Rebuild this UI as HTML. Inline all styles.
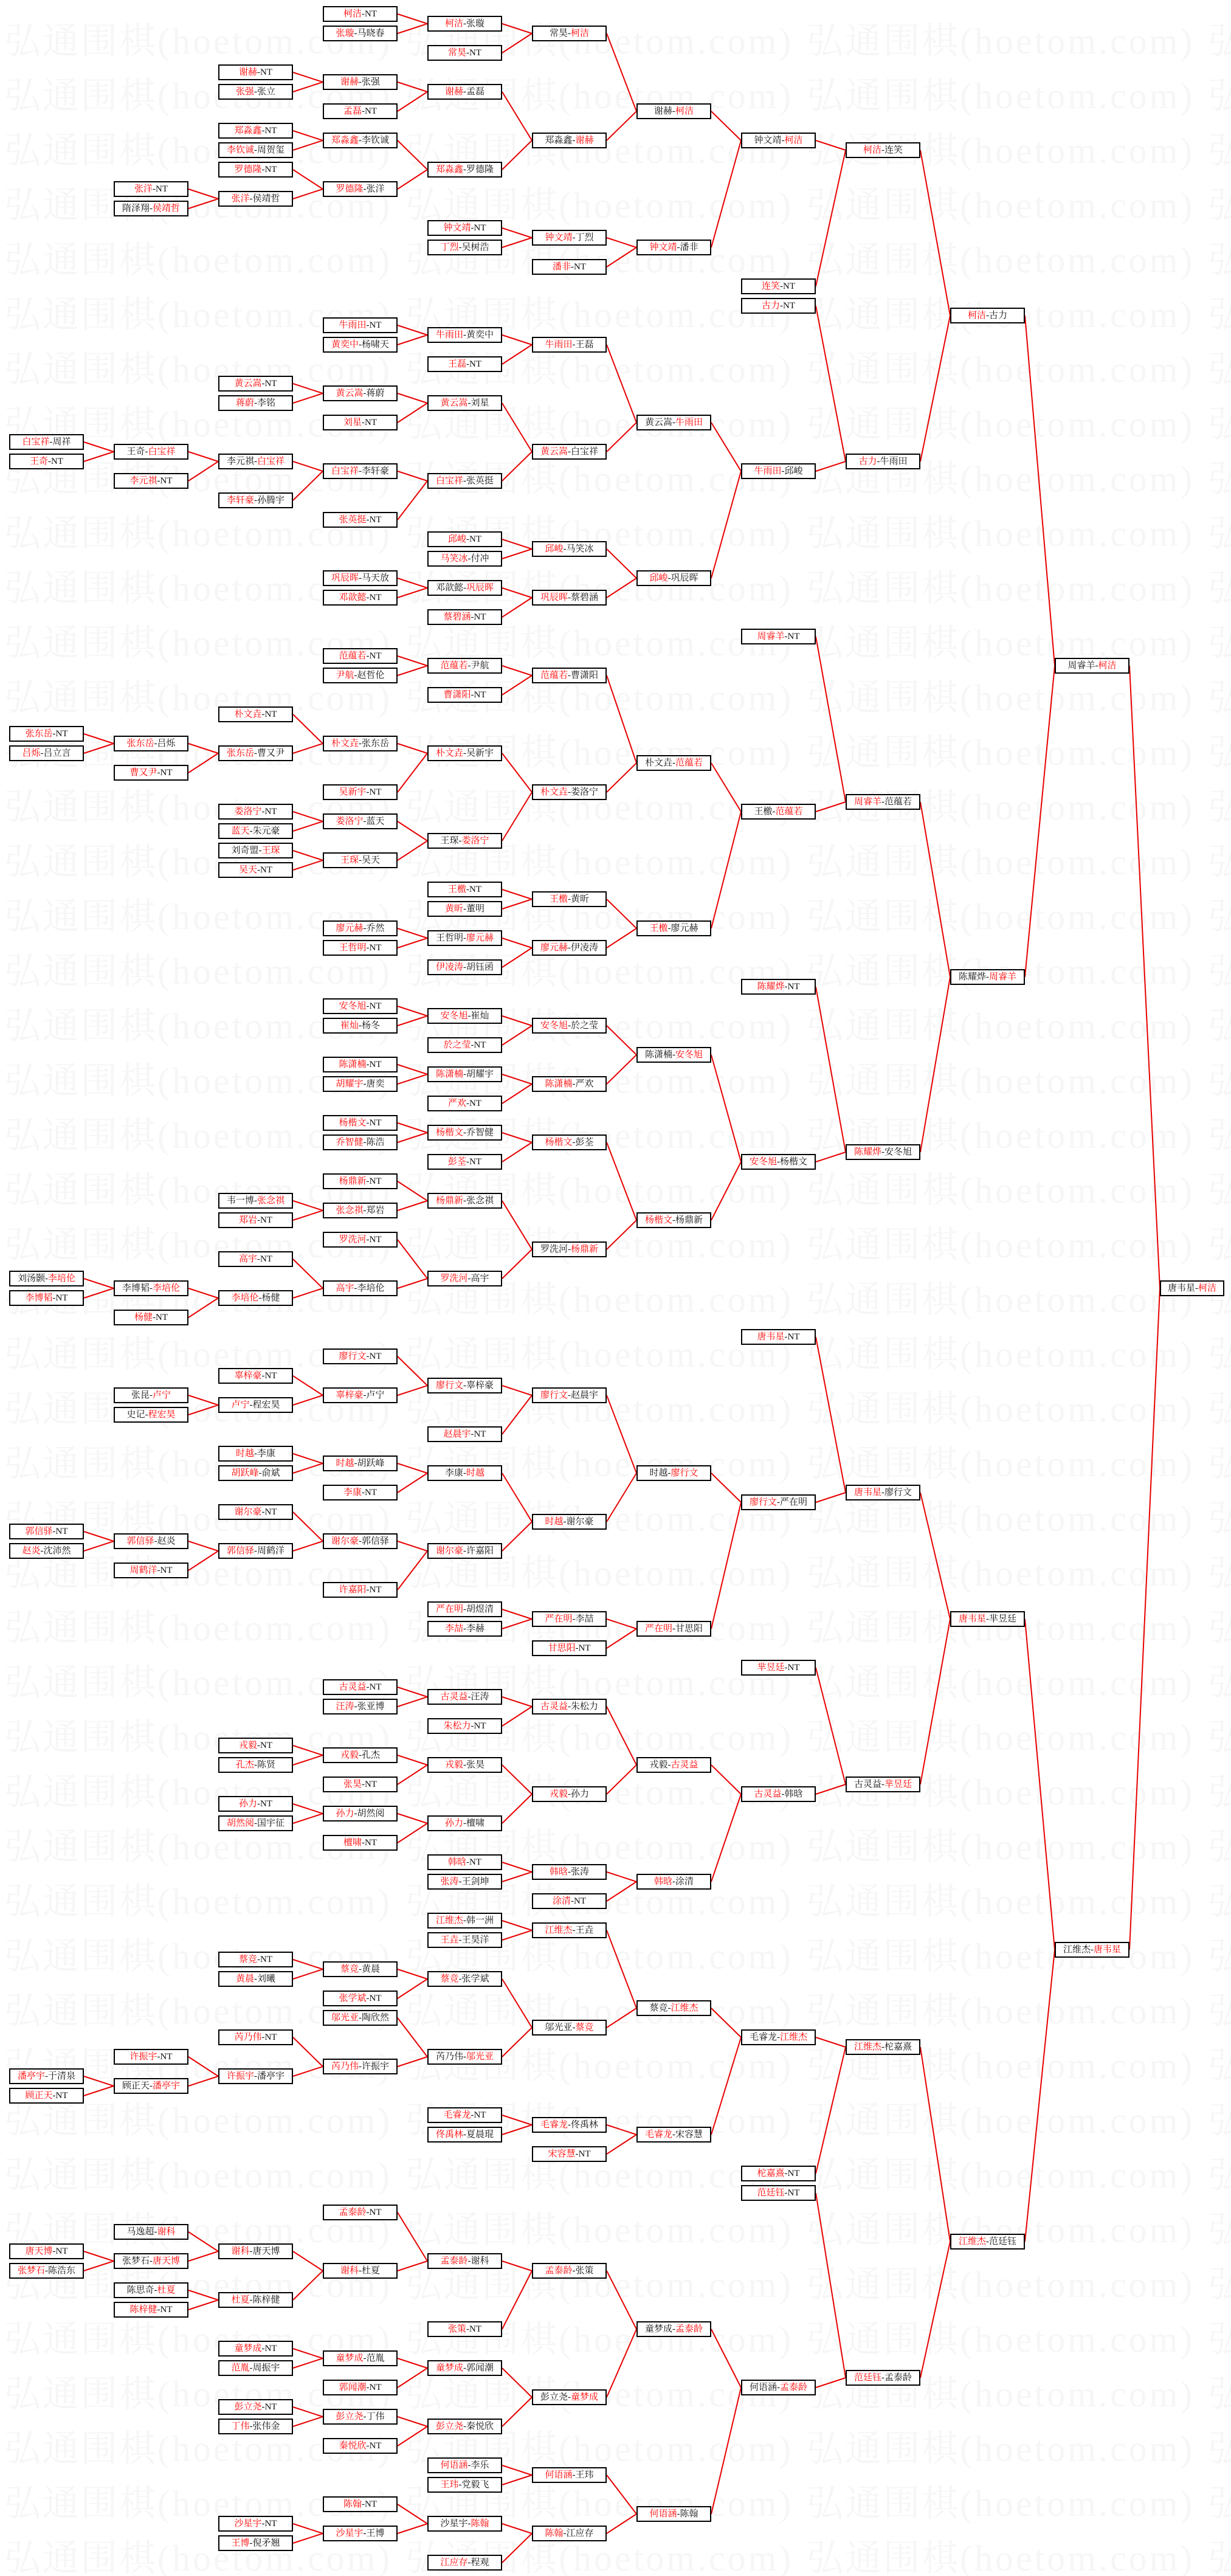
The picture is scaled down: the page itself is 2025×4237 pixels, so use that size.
<!DOCTYPE html>
<html><head><meta charset="utf-8"><title>bracket</title>
<style>
html,body{margin:0;padding:0;background:#fff}
#pg{position:relative;width:2025px;height:4237px;overflow:hidden;background:#fff}
.w{position:absolute;left:7px;white-space:nowrap;font:60px/60px "Liberation Serif","Noto Serif CJK SC",serif;letter-spacing:3px;color:#f6f6f6}
.w span{display:inline-block;width:660px}
.w b{font:60px/60px "Liberation Serif","Noto Serif CJK SC",serif;letter-spacing:4px;font-weight:normal}
svg{position:absolute;left:0;top:0}
.b{position:absolute;width:123px;height:26px;box-sizing:border-box;border:2px solid #000;background:#fff;font:15px/22px "Liberation Serif","Noto Serif CJK SC",serif;text-align:center;white-space:nowrap;color:#111;overflow:hidden}
.b i{font-style:normal;color:#f00}
.c0{left:15px}.c1{left:187px}.c2{left:359px}.c3{left:531px}.c4{left:703px}.c5{left:875px}
.c6{left:1047px}.c7{left:1219px}.c8{left:1391px}.c9{left:1563px}.c10{left:1735px}.c11{left:1908px;width:106px}
</style></head><body><div id="pg">
<div class="w" style="top:38px"><span>弘通围棋<b>(hoetom.com)</b></span><span>弘通围棋<b>(hoetom.com)</b></span><span>弘通围棋<b>(hoetom.com)</b></span><span>弘通围棋<b>(hoetom.com)</b></span></div>
<div class="w" style="top:128px"><span>弘通围棋<b>(hoetom.com)</b></span><span>弘通围棋<b>(hoetom.com)</b></span><span>弘通围棋<b>(hoetom.com)</b></span><span>弘通围棋<b>(hoetom.com)</b></span></div>
<div class="w" style="top:218px"><span>弘通围棋<b>(hoetom.com)</b></span><span>弘通围棋<b>(hoetom.com)</b></span><span>弘通围棋<b>(hoetom.com)</b></span><span>弘通围棋<b>(hoetom.com)</b></span></div>
<div class="w" style="top:308px"><span>弘通围棋<b>(hoetom.com)</b></span><span>弘通围棋<b>(hoetom.com)</b></span><span>弘通围棋<b>(hoetom.com)</b></span><span>弘通围棋<b>(hoetom.com)</b></span></div>
<div class="w" style="top:398px"><span>弘通围棋<b>(hoetom.com)</b></span><span>弘通围棋<b>(hoetom.com)</b></span><span>弘通围棋<b>(hoetom.com)</b></span><span>弘通围棋<b>(hoetom.com)</b></span></div>
<div class="w" style="top:488px"><span>弘通围棋<b>(hoetom.com)</b></span><span>弘通围棋<b>(hoetom.com)</b></span><span>弘通围棋<b>(hoetom.com)</b></span><span>弘通围棋<b>(hoetom.com)</b></span></div>
<div class="w" style="top:578px"><span>弘通围棋<b>(hoetom.com)</b></span><span>弘通围棋<b>(hoetom.com)</b></span><span>弘通围棋<b>(hoetom.com)</b></span><span>弘通围棋<b>(hoetom.com)</b></span></div>
<div class="w" style="top:668px"><span>弘通围棋<b>(hoetom.com)</b></span><span>弘通围棋<b>(hoetom.com)</b></span><span>弘通围棋<b>(hoetom.com)</b></span><span>弘通围棋<b>(hoetom.com)</b></span></div>
<div class="w" style="top:758px"><span>弘通围棋<b>(hoetom.com)</b></span><span>弘通围棋<b>(hoetom.com)</b></span><span>弘通围棋<b>(hoetom.com)</b></span><span>弘通围棋<b>(hoetom.com)</b></span></div>
<div class="w" style="top:848px"><span>弘通围棋<b>(hoetom.com)</b></span><span>弘通围棋<b>(hoetom.com)</b></span><span>弘通围棋<b>(hoetom.com)</b></span><span>弘通围棋<b>(hoetom.com)</b></span></div>
<div class="w" style="top:938px"><span>弘通围棋<b>(hoetom.com)</b></span><span>弘通围棋<b>(hoetom.com)</b></span><span>弘通围棋<b>(hoetom.com)</b></span><span>弘通围棋<b>(hoetom.com)</b></span></div>
<div class="w" style="top:1028px"><span>弘通围棋<b>(hoetom.com)</b></span><span>弘通围棋<b>(hoetom.com)</b></span><span>弘通围棋<b>(hoetom.com)</b></span><span>弘通围棋<b>(hoetom.com)</b></span></div>
<div class="w" style="top:1118px"><span>弘通围棋<b>(hoetom.com)</b></span><span>弘通围棋<b>(hoetom.com)</b></span><span>弘通围棋<b>(hoetom.com)</b></span><span>弘通围棋<b>(hoetom.com)</b></span></div>
<div class="w" style="top:1208px"><span>弘通围棋<b>(hoetom.com)</b></span><span>弘通围棋<b>(hoetom.com)</b></span><span>弘通围棋<b>(hoetom.com)</b></span><span>弘通围棋<b>(hoetom.com)</b></span></div>
<div class="w" style="top:1298px"><span>弘通围棋<b>(hoetom.com)</b></span><span>弘通围棋<b>(hoetom.com)</b></span><span>弘通围棋<b>(hoetom.com)</b></span><span>弘通围棋<b>(hoetom.com)</b></span></div>
<div class="w" style="top:1388px"><span>弘通围棋<b>(hoetom.com)</b></span><span>弘通围棋<b>(hoetom.com)</b></span><span>弘通围棋<b>(hoetom.com)</b></span><span>弘通围棋<b>(hoetom.com)</b></span></div>
<div class="w" style="top:1478px"><span>弘通围棋<b>(hoetom.com)</b></span><span>弘通围棋<b>(hoetom.com)</b></span><span>弘通围棋<b>(hoetom.com)</b></span><span>弘通围棋<b>(hoetom.com)</b></span></div>
<div class="w" style="top:1568px"><span>弘通围棋<b>(hoetom.com)</b></span><span>弘通围棋<b>(hoetom.com)</b></span><span>弘通围棋<b>(hoetom.com)</b></span><span>弘通围棋<b>(hoetom.com)</b></span></div>
<div class="w" style="top:1658px"><span>弘通围棋<b>(hoetom.com)</b></span><span>弘通围棋<b>(hoetom.com)</b></span><span>弘通围棋<b>(hoetom.com)</b></span><span>弘通围棋<b>(hoetom.com)</b></span></div>
<div class="w" style="top:1748px"><span>弘通围棋<b>(hoetom.com)</b></span><span>弘通围棋<b>(hoetom.com)</b></span><span>弘通围棋<b>(hoetom.com)</b></span><span>弘通围棋<b>(hoetom.com)</b></span></div>
<div class="w" style="top:1838px"><span>弘通围棋<b>(hoetom.com)</b></span><span>弘通围棋<b>(hoetom.com)</b></span><span>弘通围棋<b>(hoetom.com)</b></span><span>弘通围棋<b>(hoetom.com)</b></span></div>
<div class="w" style="top:1928px"><span>弘通围棋<b>(hoetom.com)</b></span><span>弘通围棋<b>(hoetom.com)</b></span><span>弘通围棋<b>(hoetom.com)</b></span><span>弘通围棋<b>(hoetom.com)</b></span></div>
<div class="w" style="top:2018px"><span>弘通围棋<b>(hoetom.com)</b></span><span>弘通围棋<b>(hoetom.com)</b></span><span>弘通围棋<b>(hoetom.com)</b></span><span>弘通围棋<b>(hoetom.com)</b></span></div>
<div class="w" style="top:2108px"><span>弘通围棋<b>(hoetom.com)</b></span><span>弘通围棋<b>(hoetom.com)</b></span><span>弘通围棋<b>(hoetom.com)</b></span><span>弘通围棋<b>(hoetom.com)</b></span></div>
<div class="w" style="top:2198px"><span>弘通围棋<b>(hoetom.com)</b></span><span>弘通围棋<b>(hoetom.com)</b></span><span>弘通围棋<b>(hoetom.com)</b></span><span>弘通围棋<b>(hoetom.com)</b></span></div>
<div class="w" style="top:2288px"><span>弘通围棋<b>(hoetom.com)</b></span><span>弘通围棋<b>(hoetom.com)</b></span><span>弘通围棋<b>(hoetom.com)</b></span><span>弘通围棋<b>(hoetom.com)</b></span></div>
<div class="w" style="top:2378px"><span>弘通围棋<b>(hoetom.com)</b></span><span>弘通围棋<b>(hoetom.com)</b></span><span>弘通围棋<b>(hoetom.com)</b></span><span>弘通围棋<b>(hoetom.com)</b></span></div>
<div class="w" style="top:2468px"><span>弘通围棋<b>(hoetom.com)</b></span><span>弘通围棋<b>(hoetom.com)</b></span><span>弘通围棋<b>(hoetom.com)</b></span><span>弘通围棋<b>(hoetom.com)</b></span></div>
<div class="w" style="top:2558px"><span>弘通围棋<b>(hoetom.com)</b></span><span>弘通围棋<b>(hoetom.com)</b></span><span>弘通围棋<b>(hoetom.com)</b></span><span>弘通围棋<b>(hoetom.com)</b></span></div>
<div class="w" style="top:2648px"><span>弘通围棋<b>(hoetom.com)</b></span><span>弘通围棋<b>(hoetom.com)</b></span><span>弘通围棋<b>(hoetom.com)</b></span><span>弘通围棋<b>(hoetom.com)</b></span></div>
<div class="w" style="top:2738px"><span>弘通围棋<b>(hoetom.com)</b></span><span>弘通围棋<b>(hoetom.com)</b></span><span>弘通围棋<b>(hoetom.com)</b></span><span>弘通围棋<b>(hoetom.com)</b></span></div>
<div class="w" style="top:2828px"><span>弘通围棋<b>(hoetom.com)</b></span><span>弘通围棋<b>(hoetom.com)</b></span><span>弘通围棋<b>(hoetom.com)</b></span><span>弘通围棋<b>(hoetom.com)</b></span></div>
<div class="w" style="top:2918px"><span>弘通围棋<b>(hoetom.com)</b></span><span>弘通围棋<b>(hoetom.com)</b></span><span>弘通围棋<b>(hoetom.com)</b></span><span>弘通围棋<b>(hoetom.com)</b></span></div>
<div class="w" style="top:3008px"><span>弘通围棋<b>(hoetom.com)</b></span><span>弘通围棋<b>(hoetom.com)</b></span><span>弘通围棋<b>(hoetom.com)</b></span><span>弘通围棋<b>(hoetom.com)</b></span></div>
<div class="w" style="top:3098px"><span>弘通围棋<b>(hoetom.com)</b></span><span>弘通围棋<b>(hoetom.com)</b></span><span>弘通围棋<b>(hoetom.com)</b></span><span>弘通围棋<b>(hoetom.com)</b></span></div>
<div class="w" style="top:3188px"><span>弘通围棋<b>(hoetom.com)</b></span><span>弘通围棋<b>(hoetom.com)</b></span><span>弘通围棋<b>(hoetom.com)</b></span><span>弘通围棋<b>(hoetom.com)</b></span></div>
<div class="w" style="top:3278px"><span>弘通围棋<b>(hoetom.com)</b></span><span>弘通围棋<b>(hoetom.com)</b></span><span>弘通围棋<b>(hoetom.com)</b></span><span>弘通围棋<b>(hoetom.com)</b></span></div>
<div class="w" style="top:3368px"><span>弘通围棋<b>(hoetom.com)</b></span><span>弘通围棋<b>(hoetom.com)</b></span><span>弘通围棋<b>(hoetom.com)</b></span><span>弘通围棋<b>(hoetom.com)</b></span></div>
<div class="w" style="top:3458px"><span>弘通围棋<b>(hoetom.com)</b></span><span>弘通围棋<b>(hoetom.com)</b></span><span>弘通围棋<b>(hoetom.com)</b></span><span>弘通围棋<b>(hoetom.com)</b></span></div>
<div class="w" style="top:3548px"><span>弘通围棋<b>(hoetom.com)</b></span><span>弘通围棋<b>(hoetom.com)</b></span><span>弘通围棋<b>(hoetom.com)</b></span><span>弘通围棋<b>(hoetom.com)</b></span></div>
<div class="w" style="top:3638px"><span>弘通围棋<b>(hoetom.com)</b></span><span>弘通围棋<b>(hoetom.com)</b></span><span>弘通围棋<b>(hoetom.com)</b></span><span>弘通围棋<b>(hoetom.com)</b></span></div>
<div class="w" style="top:3728px"><span>弘通围棋<b>(hoetom.com)</b></span><span>弘通围棋<b>(hoetom.com)</b></span><span>弘通围棋<b>(hoetom.com)</b></span><span>弘通围棋<b>(hoetom.com)</b></span></div>
<div class="w" style="top:3818px"><span>弘通围棋<b>(hoetom.com)</b></span><span>弘通围棋<b>(hoetom.com)</b></span><span>弘通围棋<b>(hoetom.com)</b></span><span>弘通围棋<b>(hoetom.com)</b></span></div>
<div class="w" style="top:3908px"><span>弘通围棋<b>(hoetom.com)</b></span><span>弘通围棋<b>(hoetom.com)</b></span><span>弘通围棋<b>(hoetom.com)</b></span><span>弘通围棋<b>(hoetom.com)</b></span></div>
<div class="w" style="top:3998px"><span>弘通围棋<b>(hoetom.com)</b></span><span>弘通围棋<b>(hoetom.com)</b></span><span>弘通围棋<b>(hoetom.com)</b></span><span>弘通围棋<b>(hoetom.com)</b></span></div>
<div class="w" style="top:4088px"><span>弘通围棋<b>(hoetom.com)</b></span><span>弘通围棋<b>(hoetom.com)</b></span><span>弘通围棋<b>(hoetom.com)</b></span><span>弘通围棋<b>(hoetom.com)</b></span></div>
<div class="w" style="top:4178px"><span>弘通围棋<b>(hoetom.com)</b></span><span>弘通围棋<b>(hoetom.com)</b></span><span>弘通围棋<b>(hoetom.com)</b></span><span>弘通围棋<b>(hoetom.com)</b></span></div>

<svg width="2025" height="4237" viewBox="0 0 2025 4237">
<path fill="none" stroke="#e80000" stroke-width="2" d="
M138 727L187 743M138 759L187 743M138 1207L187 1223M138 1239L187 1223M138 2103L187 2119M138 2135L187 2119M138 2519L187 2535M138 2551L187 2535M138 3415L187 3431M138 3447L187 3431M138 3703L187 3719M138 3735L187 3719
M310 311L359 327M310 343L359 327M310 743L359 759M310 791L359 759M310 1223L359 1239M310 1271L359 1239M310 2119L359 2135M310 2167L359 2135M310 2295L359 2311M310 2327L359 2311M310 2535L359 2551M310 2583L359 2551M310 3383L359 3415M310 3431L359 3415M310 3671L359 3703M310 3719L359 3703M310 3767L359 3783M310 3799L359 3783
M482 119L531 135M482 151L531 135M482 215L531 231M482 247L531 231M482 279L531 311M482 327L531 311M482 631L531 647M482 663L531 647M482 759L531 775M482 823L531 775M482 1175L531 1223M482 1239L531 1223M482 1335L531 1351M482 1367L531 1351M482 1399L531 1415M482 1431L531 1415M482 1975L531 1991M482 2007L531 1991M482 2071L531 2119M482 2135L531 2119M482 2263L531 2295M482 2311L531 2295M482 2391L531 2407M482 2423L531 2407M482 2487L531 2535M482 2551L531 2535M482 2871L531 2887M482 2903L531 2887M482 2967L531 2983M482 2999L531 2983M482 3223L531 3239M482 3255L531 3239M482 3351L531 3399M482 3415L531 3399M482 3703L531 3735M482 3783L531 3735M482 3863L531 3879M482 3895L531 3879M482 3959L531 3975M482 3991L531 3975M482 4151L531 4167M482 4183L531 4167
M654 23L703 39M654 55L703 39M654 135L703 151M654 183L703 151M654 231L703 279M654 311L703 279M654 535L703 551M654 567L703 551M654 647L703 663M654 695L703 663M654 775L703 791M654 855L703 791M654 951L703 967M654 983L703 967M654 1079L703 1095M654 1111L703 1095M654 1223L703 1239M654 1303L703 1239M654 1351L703 1383M654 1415L703 1383M654 1527L703 1543M654 1559L703 1543M654 1655L703 1671M654 1687L703 1671M654 1751L703 1767M654 1783L703 1767M654 1847L703 1863M654 1879L703 1863M654 1943L703 1975M654 1991L703 1975M654 2039L703 2103M654 2119L703 2103M654 2231L703 2279M654 2295L703 2279M654 2407L703 2423M654 2455L703 2423M654 2535L703 2551M654 2615L703 2551M654 2775L703 2791M654 2807L703 2791M654 2887L703 2903M654 2935L703 2903M654 2983L703 2999M654 3031L703 2999M654 3239L703 3255M654 3287L703 3255M654 3319L703 3383M654 3399L703 3383M654 3639L703 3719M654 3735L703 3719M654 3879L703 3895M654 3927L703 3895M654 3975L703 3991M654 4023L703 3991M654 4119L703 4151M654 4167L703 4151
M826 39L875 55M826 87L875 55M826 151L875 231M826 279L875 231M826 375L875 391M826 407L875 391M826 551L875 567M826 599L875 567M826 663L875 743M826 791L875 743M826 887L875 903M826 919L875 903M826 967L875 983M826 1015L875 983M826 1095L875 1111M826 1143L875 1111M826 1239L875 1303M826 1383L875 1303M826 1463L875 1479M826 1495L875 1479M826 1543L875 1559M826 1591L875 1559M826 1671L875 1687M826 1719L875 1687M826 1767L875 1783M826 1815L875 1783M826 1863L875 1879M826 1911L875 1879M826 1975L875 2055M826 2103L875 2055M826 2279L875 2295M826 2359L875 2295M826 2423L875 2503M826 2551L875 2503M826 2647L875 2663M826 2679L875 2663M826 2791L875 2807M826 2839L875 2807M826 2903L875 2951M826 2999L875 2951M826 3063L875 3079M826 3095L875 3079M826 3159L875 3175M826 3191L875 3175M826 3255L875 3335M826 3383L875 3335M826 3479L875 3495M826 3511L875 3495M826 3719L875 3735M826 3831L875 3735M826 3895L875 3943M826 3991L875 3943M826 4055L875 4071M826 4087L875 4071M826 4151L875 4167M826 4215L875 4167
M998 55L1047 183M998 231L1047 183M998 391L1047 407M998 439L1047 407M998 567L1047 695M998 743L1047 695M998 903L1047 951M998 983L1047 951M998 1111L1047 1255M998 1303L1047 1255M998 1479L1047 1527M998 1559L1047 1527M998 1687L1047 1735M998 1783L1047 1735M998 1879L1047 2007M998 2055L1047 2007M998 2295L1047 2423M998 2503L1047 2423M998 2663L1047 2679M998 2711L1047 2679M998 2807L1047 2903M998 2951L1047 2903M998 3079L1047 3095M998 3127L1047 3095M998 3175L1047 3303M998 3335L1047 3303M998 3495L1047 3511M998 3543L1047 3511M998 3735L1047 3831M998 3943L1047 3831M998 4071L1047 4135M998 4167L1047 4135
M1170 183L1219 231M1170 407L1219 231M1170 695L1219 775M1170 951L1219 775M1170 1255L1219 1335M1170 1527L1219 1335M1170 1735L1219 1911M1170 2007L1219 1911M1170 2423L1219 2471M1170 2679L1219 2471M1170 2903L1219 2951M1170 3095L1219 2951M1170 3303L1219 3351M1170 3511L1219 3351M1170 3831L1219 3927M1170 4135L1219 3927
M1342 231L1391 247M1342 471L1391 247M1342 503L1391 759M1342 775L1391 759M1342 1047L1391 1319M1342 1335L1391 1319M1342 1623L1391 1895M1342 1911L1391 1895M1342 2199L1391 2455M1342 2471L1391 2455M1342 2743L1391 2935M1342 2951L1391 2935M1342 3351L1391 3367M1342 3575L1391 3367M1342 3607L1391 3911M1342 3927L1391 3911
M1514 247L1563 519M1514 759L1563 519M1514 1319L1563 1607M1514 1895L1563 1607M1514 2455L1563 2663M1514 2935L1563 2663M1514 3367L1563 3687M1514 3911L1563 3687
M1686 519L1735 1095M1686 1607L1735 1095M1686 2663L1735 3207M1686 3687L1735 3207
M1858 1095L1908 2119M1858 3207L1908 2119"/>
</svg>

<!-- column 0 -->
<div class="b c0" style="top:714px"><i>白宝祥</i>-周祥</div>
<div class="b c0" style="top:746px"><i>王奇</i>-NT</div>
<div class="b c0" style="top:1194px"><i>张东岳</i>-NT</div>
<div class="b c0" style="top:1226px"><i>吕烁</i>-吕立言</div>
<div class="b c0" style="top:2090px">刘汤颢-<i>李培伦</i></div>
<div class="b c0" style="top:2122px"><i>李博韬</i>-NT</div>
<div class="b c0" style="top:2506px"><i>郭信驿</i>-NT</div>
<div class="b c0" style="top:2538px"><i>赵炎</i>-沈沛然</div>
<div class="b c0" style="top:3402px"><i>潘亭宇</i>-于清泉</div>
<div class="b c0" style="top:3434px"><i>顾正天</i>-NT</div>
<div class="b c0" style="top:3690px"><i>唐天博</i>-NT</div>
<div class="b c0" style="top:3722px"><i>张梦石</i>-陈浩东</div>

<!-- column 1 -->
<div class="b c1" style="top:298px"><i>张洋</i>-NT</div>
<div class="b c1" style="top:330px">隋泽翔-<i>侯靖哲</i></div>
<div class="b c1" style="top:730px">王奇-<i>白宝祥</i></div>
<div class="b c1" style="top:778px"><i>李元祺</i>-NT</div>
<div class="b c1" style="top:1210px"><i>张东岳</i>-吕烁</div>
<div class="b c1" style="top:1258px"><i>曹又尹</i>-NT</div>
<div class="b c1" style="top:2106px">李博韬-<i>李培伦</i></div>
<div class="b c1" style="top:2154px"><i>杨健</i>-NT</div>
<div class="b c1" style="top:2282px">张昆-<i>卢宁</i></div>
<div class="b c1" style="top:2314px">史记-<i>程宏昊</i></div>
<div class="b c1" style="top:2522px"><i>郭信驿</i>-赵炎</div>
<div class="b c1" style="top:2570px"><i>周鹤洋</i>-NT</div>
<div class="b c1" style="top:3370px"><i>许振宇</i>-NT</div>
<div class="b c1" style="top:3418px">顾正天-<i>潘亭宇</i></div>
<div class="b c1" style="top:3658px">马逸超-<i>谢科</i></div>
<div class="b c1" style="top:3706px">张梦石-<i>唐天博</i></div>
<div class="b c1" style="top:3754px">陈思奇-<i>杜夏</i></div>
<div class="b c1" style="top:3786px"><i>陈梓健</i>-NT</div>

<!-- column 2 -->
<div class="b c2" style="top:106px"><i>谢赫</i>-NT</div>
<div class="b c2" style="top:138px"><i>张强</i>-张立</div>
<div class="b c2" style="top:202px"><i>郑淼鑫</i>-NT</div>
<div class="b c2" style="top:234px"><i>李钦诚</i>-周贺玺</div>
<div class="b c2" style="top:266px"><i>罗德隆</i>-NT</div>
<div class="b c2" style="top:314px"><i>张洋</i>-侯靖哲</div>
<div class="b c2" style="top:618px"><i>黄云嵩</i>-NT</div>
<div class="b c2" style="top:650px"><i>蒋蔚</i>-李铭</div>
<div class="b c2" style="top:746px">李元祺-<i>白宝祥</i></div>
<div class="b c2" style="top:810px"><i>李轩豪</i>-孙腾宇</div>
<div class="b c2" style="top:1162px"><i>朴文垚</i>-NT</div>
<div class="b c2" style="top:1226px"><i>张东岳</i>-曹又尹</div>
<div class="b c2" style="top:1322px"><i>娄洛宁</i>-NT</div>
<div class="b c2" style="top:1354px"><i>蓝天</i>-朱元豪</div>
<div class="b c2" style="top:1386px">刘奇盟-<i>王琛</i></div>
<div class="b c2" style="top:1418px"><i>吴天</i>-NT</div>
<div class="b c2" style="top:1962px">韦一博-<i>张念祺</i></div>
<div class="b c2" style="top:1994px"><i>郑岩</i>-NT</div>
<div class="b c2" style="top:2058px"><i>高宇</i>-NT</div>
<div class="b c2" style="top:2122px"><i>李培伦</i>-杨健</div>
<div class="b c2" style="top:2250px"><i>辜梓豪</i>-NT</div>
<div class="b c2" style="top:2298px"><i>卢宁</i>-程宏昊</div>
<div class="b c2" style="top:2378px"><i>时越</i>-李康</div>
<div class="b c2" style="top:2410px"><i>胡跃峰</i>-俞斌</div>
<div class="b c2" style="top:2474px"><i>谢尔豪</i>-NT</div>
<div class="b c2" style="top:2538px"><i>郭信驿</i>-周鹤洋</div>
<div class="b c2" style="top:2858px"><i>戎毅</i>-NT</div>
<div class="b c2" style="top:2890px"><i>孔杰</i>-陈贤</div>
<div class="b c2" style="top:2954px"><i>孙力</i>-NT</div>
<div class="b c2" style="top:2986px"><i>胡然阅</i>-国宇征</div>
<div class="b c2" style="top:3210px"><i>蔡竞</i>-NT</div>
<div class="b c2" style="top:3242px"><i>黄晨</i>-刘曦</div>
<div class="b c2" style="top:3338px"><i>芮乃伟</i>-NT</div>
<div class="b c2" style="top:3402px"><i>许振宇</i>-潘亭宇</div>
<div class="b c2" style="top:3690px"><i>谢科</i>-唐天博</div>
<div class="b c2" style="top:3770px"><i>杜夏</i>-陈梓健</div>
<div class="b c2" style="top:3850px"><i>童梦成</i>-NT</div>
<div class="b c2" style="top:3882px"><i>范胤</i>-周振宇</div>
<div class="b c2" style="top:3946px"><i>彭立尧</i>-NT</div>
<div class="b c2" style="top:3978px"><i>丁伟</i>-张伟金</div>
<div class="b c2" style="top:4138px"><i>沙星宇</i>-NT</div>
<div class="b c2" style="top:4170px"><i>王博</i>-倪矛翘</div>

<!-- column 3 -->
<div class="b c3" style="top:10px"><i>柯洁</i>-NT</div>
<div class="b c3" style="top:42px"><i>张璇</i>-马晓春</div>
<div class="b c3" style="top:122px"><i>谢赫</i>-张强</div>
<div class="b c3" style="top:170px"><i>孟磊</i>-NT</div>
<div class="b c3" style="top:218px"><i>郑淼鑫</i>-李钦诚</div>
<div class="b c3" style="top:298px"><i>罗德隆</i>-张洋</div>
<div class="b c3" style="top:522px"><i>牛雨田</i>-NT</div>
<div class="b c3" style="top:554px"><i>黄奕中</i>-杨啸天</div>
<div class="b c3" style="top:634px"><i>黄云嵩</i>-蒋蔚</div>
<div class="b c3" style="top:682px"><i>刘星</i>-NT</div>
<div class="b c3" style="top:762px"><i>白宝祥</i>-李轩豪</div>
<div class="b c3" style="top:842px"><i>张英挺</i>-NT</div>
<div class="b c3" style="top:938px"><i>巩辰晖</i>-马天放</div>
<div class="b c3" style="top:970px"><i>邓歆懿</i>-NT</div>
<div class="b c3" style="top:1066px"><i>范蕴若</i>-NT</div>
<div class="b c3" style="top:1098px"><i>尹航</i>-赵哲伦</div>
<div class="b c3" style="top:1210px"><i>朴文垚</i>-张东岳</div>
<div class="b c3" style="top:1290px"><i>吴新宇</i>-NT</div>
<div class="b c3" style="top:1338px"><i>娄洛宁</i>-蓝天</div>
<div class="b c3" style="top:1402px"><i>王琛</i>-吴天</div>
<div class="b c3" style="top:1514px"><i>廖元赫</i>-乔然</div>
<div class="b c3" style="top:1546px"><i>王哲明</i>-NT</div>
<div class="b c3" style="top:1642px"><i>安冬旭</i>-NT</div>
<div class="b c3" style="top:1674px"><i>崔灿</i>-杨冬</div>
<div class="b c3" style="top:1738px"><i>陈潇楠</i>-NT</div>
<div class="b c3" style="top:1770px"><i>胡耀宇</i>-唐奕</div>
<div class="b c3" style="top:1834px"><i>杨楷文</i>-NT</div>
<div class="b c3" style="top:1866px"><i>乔智健</i>-陈浩</div>
<div class="b c3" style="top:1930px"><i>杨鼎新</i>-NT</div>
<div class="b c3" style="top:1978px"><i>张念祺</i>-郑岩</div>
<div class="b c3" style="top:2026px"><i>罗洗河</i>-NT</div>
<div class="b c3" style="top:2106px"><i>高宇</i>-李培伦</div>
<div class="b c3" style="top:2218px"><i>廖行文</i>-NT</div>
<div class="b c3" style="top:2282px"><i>辜梓豪</i>-卢宁</div>
<div class="b c3" style="top:2394px"><i>时越</i>-胡跃峰</div>
<div class="b c3" style="top:2442px"><i>李康</i>-NT</div>
<div class="b c3" style="top:2522px"><i>谢尔豪</i>-郭信驿</div>
<div class="b c3" style="top:2602px"><i>许嘉阳</i>-NT</div>
<div class="b c3" style="top:2762px"><i>古灵益</i>-NT</div>
<div class="b c3" style="top:2794px"><i>汪涛</i>-张亚博</div>
<div class="b c3" style="top:2874px"><i>戎毅</i>-孔杰</div>
<div class="b c3" style="top:2922px"><i>张昊</i>-NT</div>
<div class="b c3" style="top:2970px"><i>孙力</i>-胡然阅</div>
<div class="b c3" style="top:3018px"><i>檀啸</i>-NT</div>
<div class="b c3" style="top:3226px"><i>蔡竞</i>-黄晨</div>
<div class="b c3" style="top:3274px"><i>张学斌</i>-NT</div>
<div class="b c3" style="top:3306px"><i>邬光亚</i>-陶欣然</div>
<div class="b c3" style="top:3386px"><i>芮乃伟</i>-许振宇</div>
<div class="b c3" style="top:3626px"><i>孟泰龄</i>-NT</div>
<div class="b c3" style="top:3722px"><i>谢科</i>-杜夏</div>
<div class="b c3" style="top:3866px"><i>童梦成</i>-范胤</div>
<div class="b c3" style="top:3914px"><i>郭闻潮</i>-NT</div>
<div class="b c3" style="top:3962px"><i>彭立尧</i>-丁伟</div>
<div class="b c3" style="top:4010px"><i>秦悦欣</i>-NT</div>
<div class="b c3" style="top:4106px"><i>陈翰</i>-NT</div>
<div class="b c3" style="top:4154px"><i>沙星宇</i>-王博</div>

<!-- column 4 -->
<div class="b c4" style="top:26px"><i>柯洁</i>-张璇</div>
<div class="b c4" style="top:74px"><i>常昊</i>-NT</div>
<div class="b c4" style="top:138px"><i>谢赫</i>-孟磊</div>
<div class="b c4" style="top:266px"><i>郑淼鑫</i>-罗德隆</div>
<div class="b c4" style="top:362px"><i>钟文靖</i>-NT</div>
<div class="b c4" style="top:394px"><i>丁烈</i>-吴树浩</div>
<div class="b c4" style="top:538px"><i>牛雨田</i>-黄奕中</div>
<div class="b c4" style="top:586px"><i>王磊</i>-NT</div>
<div class="b c4" style="top:650px"><i>黄云嵩</i>-刘星</div>
<div class="b c4" style="top:778px"><i>白宝祥</i>-张英挺</div>
<div class="b c4" style="top:874px"><i>邱峻</i>-NT</div>
<div class="b c4" style="top:906px"><i>马笑冰</i>-付冲</div>
<div class="b c4" style="top:954px">邓歆懿-<i>巩辰晖</i></div>
<div class="b c4" style="top:1002px"><i>蔡碧涵</i>-NT</div>
<div class="b c4" style="top:1082px"><i>范蕴若</i>-尹航</div>
<div class="b c4" style="top:1130px"><i>曹潇阳</i>-NT</div>
<div class="b c4" style="top:1226px"><i>朴文垚</i>-吴新宇</div>
<div class="b c4" style="top:1370px">王琛-<i>娄洛宁</i></div>
<div class="b c4" style="top:1450px"><i>王檄</i>-NT</div>
<div class="b c4" style="top:1482px"><i>黄昕</i>-董明</div>
<div class="b c4" style="top:1530px">王哲明-<i>廖元赫</i></div>
<div class="b c4" style="top:1578px"><i>伊凌涛</i>-胡钰函</div>
<div class="b c4" style="top:1658px"><i>安冬旭</i>-崔灿</div>
<div class="b c4" style="top:1706px"><i>於之莹</i>-NT</div>
<div class="b c4" style="top:1754px"><i>陈潇楠</i>-胡耀宇</div>
<div class="b c4" style="top:1802px"><i>严欢</i>-NT</div>
<div class="b c4" style="top:1850px"><i>杨楷文</i>-乔智健</div>
<div class="b c4" style="top:1898px"><i>彭荃</i>-NT</div>
<div class="b c4" style="top:1962px"><i>杨鼎新</i>-张念祺</div>
<div class="b c4" style="top:2090px"><i>罗洗河</i>-高宇</div>
<div class="b c4" style="top:2266px"><i>廖行文</i>-辜梓豪</div>
<div class="b c4" style="top:2346px"><i>赵晨宇</i>-NT</div>
<div class="b c4" style="top:2410px">李康-<i>时越</i></div>
<div class="b c4" style="top:2538px"><i>谢尔豪</i>-许嘉阳</div>
<div class="b c4" style="top:2634px"><i>严在明</i>-胡煜清</div>
<div class="b c4" style="top:2666px"><i>李喆</i>-李赫</div>
<div class="b c4" style="top:2778px"><i>古灵益</i>-汪涛</div>
<div class="b c4" style="top:2826px"><i>朱松力</i>-NT</div>
<div class="b c4" style="top:2890px"><i>戎毅</i>-张昊</div>
<div class="b c4" style="top:2986px"><i>孙力</i>-檀啸</div>
<div class="b c4" style="top:3050px"><i>韩晗</i>-NT</div>
<div class="b c4" style="top:3082px"><i>张涛</i>-王剑坤</div>
<div class="b c4" style="top:3146px"><i>江维杰</i>-韩一洲</div>
<div class="b c4" style="top:3178px"><i>王垚</i>-王昊洋</div>
<div class="b c4" style="top:3242px"><i>蔡竞</i>-张学斌</div>
<div class="b c4" style="top:3370px">芮乃伟-<i>邬光亚</i></div>
<div class="b c4" style="top:3466px"><i>毛睿龙</i>-NT</div>
<div class="b c4" style="top:3498px"><i>佟禹林</i>-夏晨琨</div>
<div class="b c4" style="top:3706px"><i>孟泰龄</i>-谢科</div>
<div class="b c4" style="top:3818px"><i>张策</i>-NT</div>
<div class="b c4" style="top:3882px"><i>童梦成</i>-郭闻潮</div>
<div class="b c4" style="top:3978px"><i>彭立尧</i>-秦悦欣</div>
<div class="b c4" style="top:4042px"><i>何语涵</i>-李乐</div>
<div class="b c4" style="top:4074px"><i>王玮</i>-党毅飞</div>
<div class="b c4" style="top:4138px">沙星宇-<i>陈翰</i></div>
<div class="b c4" style="top:4202px"><i>江应存</i>-程观</div>

<!-- column 5 -->
<div class="b c5" style="top:42px">常昊-<i>柯洁</i></div>
<div class="b c5" style="top:218px">郑淼鑫-<i>谢赫</i></div>
<div class="b c5" style="top:378px"><i>钟文靖</i>-丁烈</div>
<div class="b c5" style="top:426px"><i>潘非</i>-NT</div>
<div class="b c5" style="top:554px"><i>牛雨田</i>-王磊</div>
<div class="b c5" style="top:730px"><i>黄云嵩</i>-白宝祥</div>
<div class="b c5" style="top:890px"><i>邱峻</i>-马笑冰</div>
<div class="b c5" style="top:970px"><i>巩辰晖</i>-蔡碧涵</div>
<div class="b c5" style="top:1098px"><i>范蕴若</i>-曹潇阳</div>
<div class="b c5" style="top:1290px"><i>朴文垚</i>-娄洛宁</div>
<div class="b c5" style="top:1466px"><i>王檄</i>-黄昕</div>
<div class="b c5" style="top:1546px"><i>廖元赫</i>-伊凌涛</div>
<div class="b c5" style="top:1674px"><i>安冬旭</i>-於之莹</div>
<div class="b c5" style="top:1770px"><i>陈潇楠</i>-严欢</div>
<div class="b c5" style="top:1866px"><i>杨楷文</i>-彭荃</div>
<div class="b c5" style="top:2042px">罗洗河-<i>杨鼎新</i></div>
<div class="b c5" style="top:2282px"><i>廖行文</i>-赵晨宇</div>
<div class="b c5" style="top:2490px"><i>时越</i>-谢尔豪</div>
<div class="b c5" style="top:2650px"><i>严在明</i>-李喆</div>
<div class="b c5" style="top:2698px"><i>甘思阳</i>-NT</div>
<div class="b c5" style="top:2794px"><i>古灵益</i>-朱松力</div>
<div class="b c5" style="top:2938px"><i>戎毅</i>-孙力</div>
<div class="b c5" style="top:3066px"><i>韩晗</i>-张涛</div>
<div class="b c5" style="top:3114px"><i>涂清</i>-NT</div>
<div class="b c5" style="top:3162px"><i>江维杰</i>-王垚</div>
<div class="b c5" style="top:3322px">邬光亚-<i>蔡竞</i></div>
<div class="b c5" style="top:3482px"><i>毛睿龙</i>-佟禹林</div>
<div class="b c5" style="top:3530px"><i>宋容慧</i>-NT</div>
<div class="b c5" style="top:3722px"><i>孟泰龄</i>-张策</div>
<div class="b c5" style="top:3930px">彭立尧-<i>童梦成</i></div>
<div class="b c5" style="top:4058px"><i>何语涵</i>-王玮</div>
<div class="b c5" style="top:4154px"><i>陈翰</i>-江应存</div>

<!-- column 6 -->
<div class="b c6" style="top:170px">谢赫-<i>柯洁</i></div>
<div class="b c6" style="top:394px"><i>钟文靖</i>-潘非</div>
<div class="b c6" style="top:682px">黄云嵩-<i>牛雨田</i></div>
<div class="b c6" style="top:938px"><i>邱峻</i>-巩辰晖</div>
<div class="b c6" style="top:1242px">朴文垚-<i>范蕴若</i></div>
<div class="b c6" style="top:1514px"><i>王檄</i>-廖元赫</div>
<div class="b c6" style="top:1722px">陈潇楠-<i>安冬旭</i></div>
<div class="b c6" style="top:1994px"><i>杨楷文</i>-杨鼎新</div>
<div class="b c6" style="top:2410px">时越-<i>廖行文</i></div>
<div class="b c6" style="top:2666px"><i>严在明</i>-甘思阳</div>
<div class="b c6" style="top:2890px">戎毅-<i>古灵益</i></div>
<div class="b c6" style="top:3082px"><i>韩晗</i>-涂清</div>
<div class="b c6" style="top:3290px">蔡竞-<i>江维杰</i></div>
<div class="b c6" style="top:3498px"><i>毛睿龙</i>-宋容慧</div>
<div class="b c6" style="top:3818px">童梦成-<i>孟泰龄</i></div>
<div class="b c6" style="top:4122px"><i>何语涵</i>-陈翰</div>

<!-- column 7 -->
<div class="b c7" style="top:218px">钟文靖-<i>柯洁</i></div>
<div class="b c7" style="top:458px"><i>连笑</i>-NT</div>
<div class="b c7" style="top:490px"><i>古力</i>-NT</div>
<div class="b c7" style="top:762px"><i>牛雨田</i>-邱峻</div>
<div class="b c7" style="top:1034px"><i>周睿羊</i>-NT</div>
<div class="b c7" style="top:1322px">王檄-<i>范蕴若</i></div>
<div class="b c7" style="top:1610px"><i>陈耀烨</i>-NT</div>
<div class="b c7" style="top:1898px"><i>安冬旭</i>-杨楷文</div>
<div class="b c7" style="top:2186px"><i>唐韦星</i>-NT</div>
<div class="b c7" style="top:2458px"><i>廖行文</i>-严在明</div>
<div class="b c7" style="top:2730px"><i>芈昱廷</i>-NT</div>
<div class="b c7" style="top:2938px"><i>古灵益</i>-韩晗</div>
<div class="b c7" style="top:3338px">毛睿龙-<i>江维杰</i></div>
<div class="b c7" style="top:3562px"><i>柁嘉熹</i>-NT</div>
<div class="b c7" style="top:3594px"><i>范廷钰</i>-NT</div>
<div class="b c7" style="top:3914px">何语涵-<i>孟泰龄</i></div>

<!-- column 8 -->
<div class="b c8" style="top:234px"><i>柯洁</i>-连笑</div>
<div class="b c8" style="top:746px"><i>古力</i>-牛雨田</div>
<div class="b c8" style="top:1306px"><i>周睿羊</i>-范蕴若</div>
<div class="b c8" style="top:1882px"><i>陈耀烨</i>-安冬旭</div>
<div class="b c8" style="top:2442px"><i>唐韦星</i>-廖行文</div>
<div class="b c8" style="top:2922px">古灵益-<i>芈昱廷</i></div>
<div class="b c8" style="top:3354px"><i>江维杰</i>-柁嘉熹</div>
<div class="b c8" style="top:3898px"><i>范廷钰</i>-孟泰龄</div>

<!-- column 9 -->
<div class="b c9" style="top:506px"><i>柯洁</i>-古力</div>
<div class="b c9" style="top:1594px">陈耀烨-<i>周睿羊</i></div>
<div class="b c9" style="top:2650px"><i>唐韦星</i>-芈昱廷</div>
<div class="b c9" style="top:3674px"><i>江维杰</i>-范廷钰</div>

<!-- column 10 -->
<div class="b c10" style="top:1082px">周睿羊-<i>柯洁</i></div>
<div class="b c10" style="top:3194px">江维杰-<i>唐韦星</i></div>

<!-- column 11 -->
<div class="b c11" style="top:2106px">唐韦星-<i>柯洁</i></div>
</div></body></html>
